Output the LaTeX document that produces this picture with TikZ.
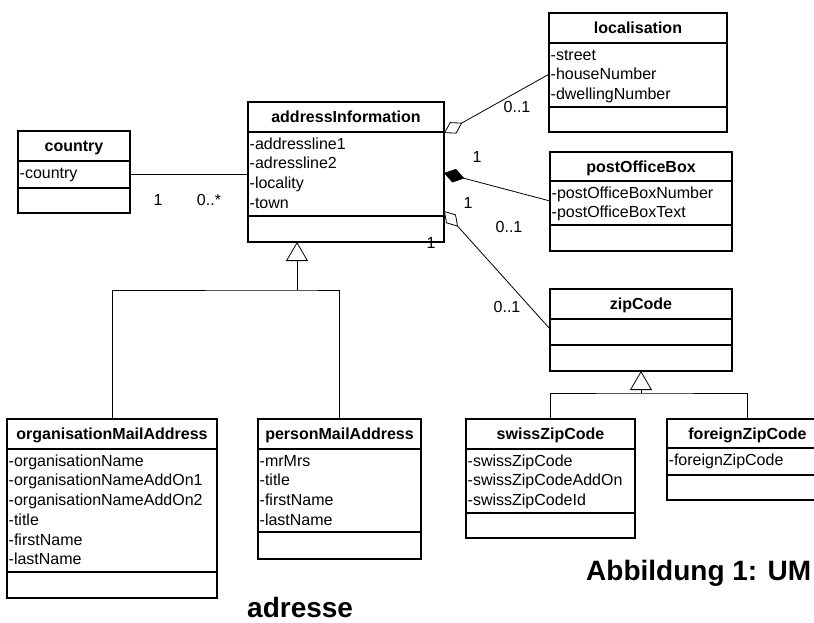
\documentclass[tikz,border=0pt]{standalone}
\usepackage{fontspec}
\setmainfont{Liberation Sans}
\usetikzlibrary{arrows.meta}
\tikzset{
 classbox/.style={draw, line width=1.1pt, inner sep=0pt, outer sep=0pt},
 divline/.style={line width=1.1pt},
 titletext/.style={inner sep=0pt, anchor=base, font=\fontsize{16}{19}\selectfont\bfseries},
 attrtext/.style={inner sep=0pt, anchor=base west, font=\fontsize{16}{19}\selectfont},
 mult/.style={inner sep=0pt, font=\fontsize{16}{19}\selectfont},
 assoc/.style={line width=0.8pt},
 aggr/.style={assoc, {Diamond[fill=white, length=21pt, width=13pt]}-},
 comp/.style={assoc, {Diamond[length=21pt, width=14pt]}-},
 gen/.style={assoc, -{Triangle[fill=white, length=19pt, width=22pt]}},
 captiontext/.style={inner sep=0pt, anchor=base west, font=\fontsize{28}{32}\selectfont\bfseries},
}
% name, x1, y1, x2, y2, header bottom, attribute bottom, title
\newcommand{\umlframe}[8]{%
  \node[classbox, anchor=north west, minimum width={(#4-#2)*1pt}, minimum height={(#5-#3)*1pt}] (#1) at (#2,#3) {};
  \draw[divline] (#2,#6) -- (#4,#6);
  \draw[divline] (#2,#7) -- (#4,#7);
  \node[titletext] (#1-t) at ({(#2+#4)/2},{(#3+#6)/2+5.8}) {#8};
}
% name, x1, header bottom, attribute list
\newcommand{\umlattrs}[4]{%
  \foreach \a [count=\i] in {#4} {
    \node[attrtext] (#1-a\i) at ({#2+1.5},{#3+11.5+(\i-1)*19.7+5.7}) {\a};
  }
}
\begin{document}
\begin{tikzpicture}[x=1pt,y=-1pt]
\useasboundingbox (0,0) rectangle (814,623);
\clip (0,0) rectangle (814,623);

\umlframe{country}{18}{131}{130}{213}{161}{188}{country}
\umlattrs{country}{18}{161}{-country}

\umlframe{addr}{248}{102}{444}{242}{132}{216}{addressInformation}
\umlattrs{addr}{248}{132}{-addressline1,-adressline2,-locality,-town}

\umlframe{loc}{549}{13}{727}{132}{43}{107}{localisation}
\umlattrs{loc}{549}{43}{-street,-houseNumber,-dwellingNumber}

\umlframe{pob}{550}{152}{732}{251}{181}{225}{postOfficeBox}
\umlattrs{pob}{550}{181}{-postOfficeBoxNumber,-postOfficeBoxText}

\umlframe{zip}{550}{289}{732}{371}{319}{345}{zipCode}

\umlframe{org}{7}{419}{217}{598}{449}{572}{organisationMailAddress}
\umlattrs{org}{7}{449}{-organisationName,-organisationNameAddOn1,-organisationNameAddOn2,-title,-firstName,-lastName}

\umlframe{pma}{258}{419}{421}{559}{449}{532}{personMailAddress}
\umlattrs{pma}{258}{449}{-mrMrs,-title,-firstName,-lastName}

\umlframe{swiss}{466}{419}{635}{538}{449}{513}{swissZipCode}
\umlattrs{swiss}{466}{449}{-swissZipCode,-swissZipCodeAddOn,-swissZipCodeId}

\umlframe{foreign}{667}{419}{828}{500}{448}{475}{foreignZipCode}
\umlattrs{foreign}{667}{448}{-foreignZipCode}

% associations
\draw[assoc] (country.east |- country-a1) -- (addr.west |- country-a1);
\draw[aggr] ([yshift=-31pt]addr.north east) -- (loc.west |- loc-a2);
\draw[comp] ([yshift=-71pt]addr.north east) -- ([yshift=-49pt]pob.north west);
\draw[aggr] ([yshift=-109pt]addr.north east) -- ([yshift=-40pt]zip.north west);

% generalisations
\coordinate (j1) at (297,290);
\draw[assoc] (org.north) |- (j1) -| (pma.north);
\draw[gen] (j1) -- (j1 |- addr.south);
\coordinate (j2) at (641,393);
\draw[assoc] (swiss.north) |- (j2) -| (foreign.north);
\draw[gen] (j2) -- (zip.south);

% multiplicities
\node[mult] (m1) at (158,200) {1};
\node[mult] (m2) at (209,200) {0..*};
\node[mult] (m3) at (517,107) {0..1};
\node[mult] (m4) at (477,157) {1};
\node[mult] (m5) at (468,203) {1};
\node[mult] (m6) at (509,227) {0..1};
\node[mult] (m7) at (431,243) {1};
\node[mult] (m8) at (507,307) {0..1};

% captions
\node[captiontext] (cap1) at (586,580) {Abbildung 1: UM};
\node[captiontext] (cap2) at (247,617) {adresse};
\end{tikzpicture}
\end{document}
